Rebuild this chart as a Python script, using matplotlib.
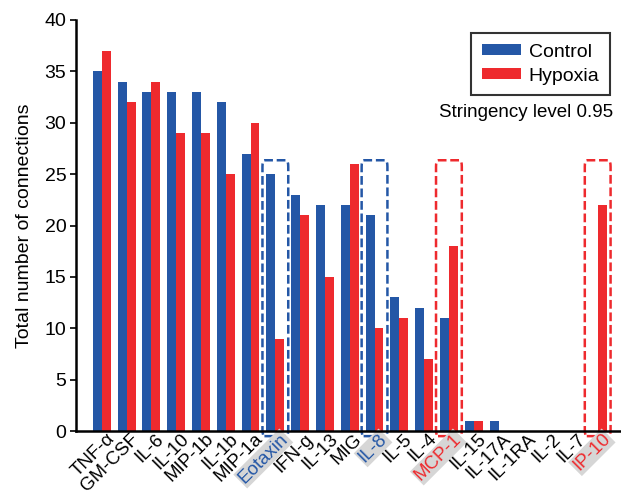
import matplotlib
matplotlib.use("Agg")
import matplotlib.pyplot as plt
import matplotlib.transforms as mtransforms
import numpy as np
from matplotlib.patches import FancyBboxPatch

plt.rcParams['font.family'] = ['Liberation Sans', 'DejaVu Sans']

categories = ["TNF-α", "GM-CSF", "IL-6", "IL-10", "MIP-1b", "IL-1b", "MIP-1a", "Eotaxin",
              "IFN-g", "IL-13", "MIG", "IL-8", "IL-5", "IL-4", "MCP-1", "IL-15", "IL-17A",
              "IL-1RA", "IL-2", "IL-7", "IP-10"]
control = [35, 34, 33, 33, 33, 32, 27, 25, 23, 22, 22, 21, 13, 12, 11, 1, 1, 0, 0, 0, 0]
hypoxia = [37, 32, 34, 29, 29, 25, 30, 9, 21, 15, 26, 10, 11, 7, 18, 1, 0, 0, 0, 0, 22]
highlight_blue = ["Eotaxin", "IL-8"]
highlight_red = ["MCP-1", "IP-10"]

BLUE = "#2457A6"
RED = "#EE2A2E"

fig = plt.figure(figsize=(6.21, 4.96), dpi=100)
ax = fig.add_axes([76/621, 1 - 431/496, 544/621, 411/496])

x = np.arange(len(categories))
w = 0.36
ax.bar(x - w/2, control, width=w, color=BLUE, label="Control")
ax.bar(x + w/2, hypoxia, width=w, color=RED, label="Hypoxia")

ax.set_xlim(-1.04, 20.9)
ax.set_ylim(0, 40)
ax.set_yticks(range(0, 41, 5))
ax.tick_params(axis='y', labelsize=14, length=4, width=1.2, pad=3)
ax.tick_params(axis='x', length=0, labelsize=13.5, pad=1)
ax.set_xticks(x)
ax.set_xticklabels(categories, rotation=45, ha='right', rotation_mode='anchor')
offset = mtransforms.ScaledTranslation(4/100, 2/100, fig.dpi_scale_trans)
for lab in ax.get_xticklabels():
    lab.set_transform(lab.get_transform() + offset)
    t = lab.get_text()
    if t in highlight_blue:
        lab.set_color(BLUE)
        lab.set_bbox(dict(facecolor='#D6D6D6', edgecolor='none', pad=1.0))
    elif t in highlight_red:
        lab.set_color(RED)
        lab.set_bbox(dict(facecolor='#D6D6D6', edgecolor='none', pad=1.0))

for s in ['top', 'right']:
    ax.spines[s].set_visible(False)
ax.spines['left'].set_linewidth(1.8)
ax.spines['bottom'].set_linewidth(1.8)

ax.set_ylabel("Total number of connections", fontsize=14, labelpad=8)

# dashed highlight boxes
for name in highlight_blue + highlight_red:
    i = categories.index(name)
    col = BLUE if name in highlight_blue else RED
    box = FancyBboxPatch((i - 0.52, -0.5), 1.04, 26.85,
                         boxstyle="round,pad=0,rounding_size=0.08",
                         fill=False, edgecolor=col, linestyle=(0, (3.5, 1.5)),
                         linewidth=1.8, clip_on=False, mutation_aspect=8)
    ax.add_patch(box)

leg = ax.legend(loc='upper right', bbox_to_anchor=(0.982, 0.968), borderaxespad=0,
                fontsize=14, frameon=True, fancybox=False, edgecolor='black',
                handlelength=2.0, handleheight=0.5, handletextpad=0.4,
                borderpad=0.55, labelspacing=0.35)
leg.get_frame().set_linewidth(1.5)

ax.text(0.988, 0.774, "Stringency level 0.95", transform=ax.transAxes,
        ha='right', va='center', fontsize=13.5)

fig.savefig("out.png", dpi=100)
